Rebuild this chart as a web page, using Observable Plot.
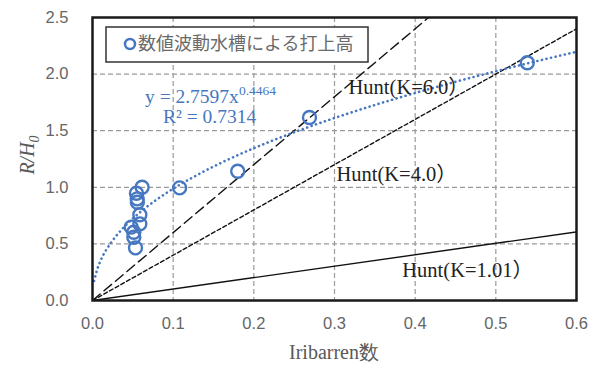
<!DOCTYPE html>
<html>
<head>
<meta charset="utf-8">
<script src="https://cdn.jsdelivr.net/npm/d3@7"></script>
<script src="https://cdn.jsdelivr.net/npm/@observablehq/plot@0.6"></script>
<style>
  body { margin: 0; background: #fff; }
</style>
</head>
<body>
<div id="chart"></div>
<script>
// ---- data ----
const xTicks = [0, 0.1, 0.2, 0.3, 0.4, 0.5, 0.6];
const yTicks = [0, 0.5, 1.0, 1.5, 2.0, 2.5];

const iribarren = [0.0615, 0.0545, 0.0554, 0.0556, 0.0587, 0.0587, 0.048, 0.0512, 0.0512, 0.0533, 0.108, 0.180, 0.269, 0.539];
const runup     = [1.00,   0.948,  0.898,  0.868,  0.757,  0.677,  0.648, 0.603,  0.559,  0.465,  0.995, 1.142, 1.617, 2.10];

// Hunt lines (endpoints): R/H0 = K * xi
const huntK    = [6.0, 4.0, 1.01];
const huntX1   = [0.6, 0.6, 0.6];
const huntY1   = [3.6, 2.4, 0.606];
const huntDash = ["10,5", "4,2.5", null];
const huntLabels = ["Hunt(K=6.0）", "Hunt(K=4.0）", "Hunt(K=1.01）"];
const huntLabelX = [0.392, 0.377, 0.465];
const huntLabelY = [1.88, 1.113, 0.265];

// power trendline coefficients (as printed on the chart)
const trendA = 2.7597, trendB = 0.4464, trendR2 = 0.7314;
const trendXs = d3.range(0.002, 0.6001, 0.004);

const legendLabel = "数値波動水槽による打上高";
const xLabel = "Iribarren数";

const blue = "#4677c0";
const gray = "#595959";
const serif = "'Liberation Serif', 'Times New Roman', 'Noto Sans CJK JP', serif";

const pts = iribarren.map((x, i) => ({x, y: runup[i]}));
const hunt = huntK.map((k, i) => ({k, seg: [{x: 0, y: 0}, {x: huntX1[i], y: huntY1[i]}], dash: huntDash[i]}));
const trend = trendXs.map(x => ({x, y: trendA * Math.pow(x, trendB)}));
const labels = huntLabels.map((t, i) => ({t, x: huntLabelX[i], y: huntLabelY[i]}));

const chart = Plot.plot({
  width: 594, height: 376,
  marginLeft: 92, marginRight: 18, marginTop: 17, marginBottom: 76,
  style: {fontFamily: "'Liberation Sans', Arial, sans-serif", fontSize: "16.5px", color: gray, background: "#fff"},
  x: {domain: [0, 0.6]},
  y: {domain: [0, 2.5]},
  marks: [
    Plot.gridX(xTicks, {stroke: "#9a9a9a", strokeOpacity: 1, strokeWidth: 1.2, strokeDasharray: "5,3"}),
    Plot.gridY(yTicks, {stroke: "#9a9a9a", strokeOpacity: 1, strokeWidth: 1.2, strokeDasharray: "5,3"}),
    Plot.axisX(xTicks, {tickSize: 0, tickPadding: 17, tickFormat: d3.format(".1f"), label: null, fill: "#666"}),
    Plot.axisY(yTicks, {tickSize: 0, tickPadding: 24, tickFormat: d3.format(".1f"), label: null, fill: "#666"}),
    ...hunt.map(h => Plot.line(h.seg, {x: "x", y: "y", stroke: "#111", strokeWidth: 1.4, strokeDasharray: h.dash, clip: true})),
    Plot.line(trend, {x: "x", y: "y", stroke: blue, strokeWidth: 2.6, strokeDasharray: "0.1,4.6", strokeLinecap: "round", clip: true}),
    Plot.dot(pts, {x: "x", y: "y", r: 6.5, stroke: blue, strokeWidth: 2.4, fill: "none"}),
    Plot.text(labels, {x: "x", y: "y", text: "t", fontFamily: serif, fontSize: 20.5, fill: "#222", letterSpacing: "-0.6px"}),
    Plot.frame({stroke: "#1a1a1a", strokeWidth: 2.5})
  ]
});
document.getElementById("chart").appendChild(chart);

const svg = d3.select(chart);
const sx = chart.scale("x");

// Equation
const eq = svg.append("text")
  .attr("x", 145).attr("y", 103).attr("text-anchor", "start")
  .style("font-family", serif).style("font-size", "19.5px")
  .attr("fill", blue);
eq.append("tspan").text(`y = ${trendA}x`);
eq.append("tspan").attr("dy", -8).style("font-size", "13.5px").text(`${trendB}`);
const r2 = svg.append("text")
  .attr("x", 163).attr("y", 123).attr("text-anchor", "start")
  .style("font-family", serif).style("font-size", "19.5px")
  .attr("fill", blue);
r2.append("tspan").text("R² = " + trendR2);

// Legend
const lg = svg.append("g");
lg.append("rect").attr("x", 106).attr("y", 27).attr("width", 262).attr("height", 35)
  .attr("fill", "#fff").attr("stroke", "#333").attr("stroke-width", 1.5);
lg.append("circle").attr("cx", 130).attr("cy", 44).attr("r", 5)
  .attr("fill", "none").attr("stroke", blue).attr("stroke-width", 2.5);
lg.append("text").attr("x", 138).attr("y", 44).attr("dy", "0.36em").attr("text-anchor", "start")
  .style("font-family", "'Noto Sans CJK JP', sans-serif").style("font-size", "18px")
  .attr("fill", "#6a6a6a").text(legendLabel);

// Axis titles
const yl = svg.append("text")
  .attr("transform", "translate(34,155) rotate(-90)")
  .attr("text-anchor", "middle")
  .style("font-family", serif).style("font-size", "20px")
  .style("font-style", "italic").attr("fill", gray);
yl.append("tspan").text("R/H");
yl.append("tspan").attr("dy", 5).style("font-size", "14px").text("0");

svg.append("text")
  .attr("x", (sx.apply(0) + sx.apply(0.6)) / 2).attr("y", 359)
  .attr("text-anchor", "middle")
  .style("font-family", "'Liberation Serif', serif").style("font-size", "20px")
  .attr("fill", gray).text(xLabel);
</script>
</body>
</html>
